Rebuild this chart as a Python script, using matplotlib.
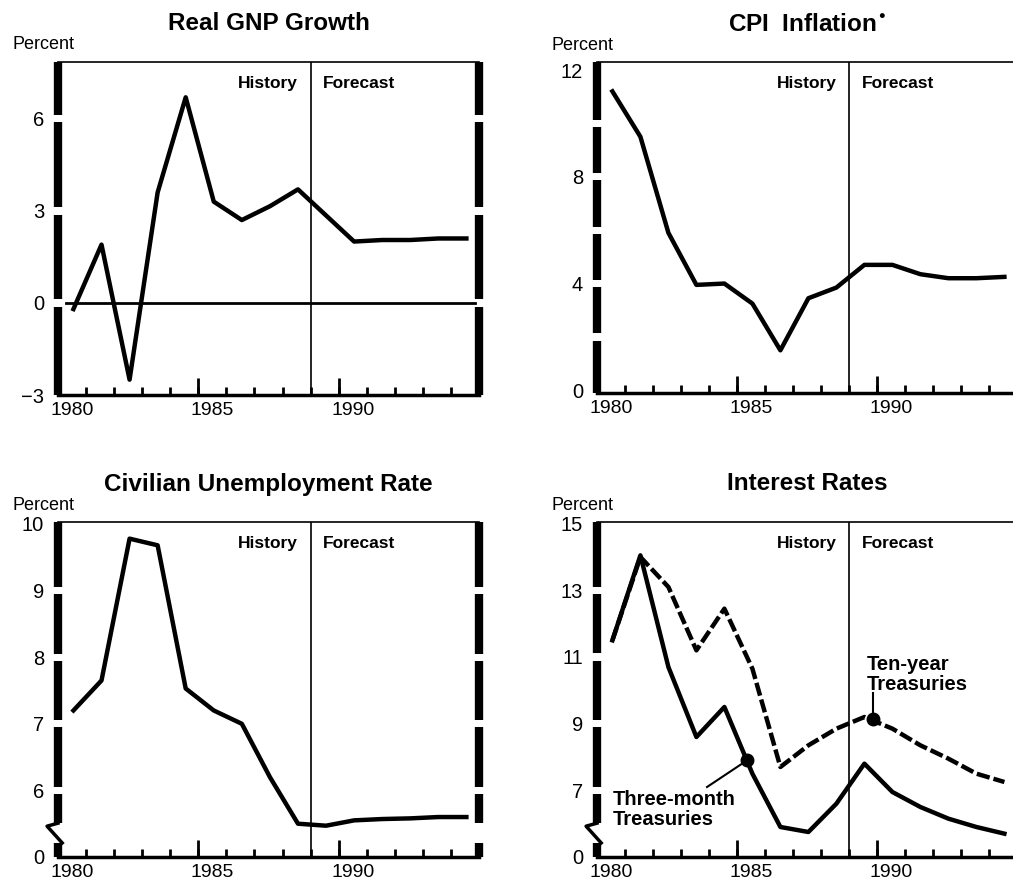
import numpy as np
import matplotlib
matplotlib.use("Agg")
import matplotlib.pyplot as plt

plt.rcParams['font.family'] = ['Liberation Sans', 'DejaVu Sans']

# annual values (forecast from 1989 on)
years = [1980, 1981, 1982, 1983, 1984, 1985, 1986, 1987, 1988, 1989,
         1990, 1991, 1992, 1993, 1994]
gnp = [-0.2, 1.9, -2.5, 3.6, 6.7, 3.3, 2.7, 3.15, 3.7, 2.85,
       2.0, 2.05, 2.05, 2.1, 2.1]
cpi = [11.2, 9.5, 5.9, 3.95, 4.0, 3.25, 1.5, 3.45, 3.85, 4.7,
       4.7, 4.35, 4.2, 4.2, 4.25]
unemp = [7.2, 7.65, 9.78, 9.68, 7.53, 7.2, 7.0, 6.2, 5.5, 5.47,
         5.55, 5.57, 5.58, 5.6, 5.6]
tbill = [11.5, 14.05, 10.7, 8.6, 9.5, 7.5, 5.9, 5.75, 6.6, 7.8,
         6.95, 6.5, 6.15, 5.9, 5.7]
tnote = [11.5, 14.0, 13.1, 11.2, 12.45, 10.65, 7.7, 8.35, 8.85, 9.2,
         8.85, 8.35, 7.95, 7.5, 7.25]

x = np.array(years) + 0.55      # plotted mid-year
split = 1989                    # history / forecast
year_labels = ['1980', '1985', '1990']

# annotation anchors (year, percent)
tnote_mark = (1989.85, 9.15)
tnote_text = (1989.65, 11.05)
tbill_mark = (1985.36, 7.9)
tbill_line = (1983.93, 7.1)
tbill_text = (1980.55, 7.0)

W, H = 1013, 883
fig = plt.figure(figsize=(W / 100, H / 100), dpi=100)


def box(x0, y0, x1, y1):
    return [x0 / W, 1 - y1 / H, (x1 - x0) / W, (y1 - y0) / H]


def thick_side(ax, xa, gaps, broken=False):
    lo, hi = ax.get_ylim()
    g = 0.011
    cuts = sorted((v - lo) / (hi - lo) for v in gaps)
    start = 0.0
    segs = []
    if broken:
        segs.append((0.0, 0.042))
        start = 0.101
    for c in cuts:
        segs.append((start, c - g))
        start = c + g
    segs.append((start, 1.0))
    for a, b in segs:
        ax.plot([xa, xa], [a, b], transform=ax.transAxes, color='black',
                lw=6, solid_capstyle='butt', clip_on=False, zorder=5)
    if broken and xa == 0:
        ax.plot([0.0, -0.026, 0.01], [0.101, 0.092, 0.042],
                transform=ax.transAxes, color='black', lw=2.5,
                clip_on=False, zorder=5)


def panel(rect, title, ylim, yticks, ylabels, gaps, broken=False):
    ax = fig.add_axes(box(*rect))
    ax.set_xlim(1980, 1995)
    ax.set_ylim(*ylim)
    for s in ['left', 'right']:
        ax.spines[s].set_visible(False)
    ax.spines['top'].set_linewidth(1.2)
    ax.spines['bottom'].set_linewidth(2.5)
    ax.set_xticks(range(1980, 1996))
    ax.set_xticklabels([])
    ax.tick_params(axis='x', which='major', direction='in', length=6, width=2)
    ax.set_xticks([1980.5, 1985.5, 1990.5], minor=True)
    ax.set_xticklabels(year_labels, minor=True, fontsize=14)
    ax.tick_params(axis='x', which='minor', length=0, pad=5)
    ax.set_yticks(yticks)
    ax.set_yticklabels(ylabels, fontsize=14.5)
    ax.tick_params(axis='y', length=0, pad=10)
    ax.vlines([1985, 1990], 0, 0.05, transform=ax.get_xaxis_transform(),
              color='black', lw=2)
    ax.axvline(split, color='black', lw=1.2)
    ax.text(split - 0.45, 0.935, 'History', transform=ax.get_xaxis_transform(),
            ha='right', va='center', fontsize=12.5, fontweight='bold')
    ax.text(split + 0.45, 0.935, 'Forecast', transform=ax.get_xaxis_transform(),
            ha='left', va='center', fontsize=12.5, fontweight='bold')
    thick_side(ax, 0, gaps, broken)
    thick_side(ax, 1, gaps, broken)
    l, b, w, h = ax.get_position().bounds
    fig.text(l + w / 2, b + h + 38 / H, title, ha='center', va='center',
             fontsize=17.5, fontweight='bold')
    fig.text(l - 46 / W, b + h + 17 / H, 'Percent', ha='left', va='center',
             fontsize=13)
    return ax


ax1 = panel((58, 62, 479, 395), 'Real GNP Growth', (-3, 7.85),
            [-3, 0, 3, 6], ['\u22123', '0', '3', '6'], [0, 3, 6])
ax1.axhline(0, xmin=0.02, xmax=0.99, color='black', lw=2)
ax1.plot(x, gnp, color='black', lw=3.2)

ax2 = panel((597, 62, 1017, 393), r'CPI  Inflation$^{\bullet}$', (-0.1, 12.3),
            [0, 4, 8, 12], ['0', '4', '8', '12'], [2, 4, 6, 8, 10])
ax2.plot(x, cpi, color='black', lw=3.2)

ax3 = panel((58, 522, 479, 857), 'Civilian Unemployment Rate', (5.0, 10.03),
            [5.0, 6, 7, 8, 9, 10], ['0', '6', '7', '8', '9', '10'],
            [6, 7, 8, 9], broken=True)
ax3.plot(x, unemp, color='black', lw=3.2)

ax4 = panel((597, 522, 1017, 857), 'Interest Rates', (5.0, 15.05),
            [5.0, 7, 9, 11, 13, 15], ['0', '7', '9', '11', '13', '15'],
            [7, 9, 11, 13], broken=True)
ax4.plot(x, tnote, color='black', lw=3.2, linestyle=(0, (3, 0.9)))
ax4.plot(x, tbill, color='black', lw=3.2)
ax4.plot(*tnote_mark, 'o', color='black', ms=9, zorder=6)
ax4.plot([tnote_mark[0], tnote_mark[0]], [tnote_mark[1], 9.92],
         color='black', lw=1.5)
ax4.text(*tnote_text, 'Ten-year\nTreasuries', ha='left', va='top',
         fontsize=14.5, fontweight='bold', linespacing=1.05)
ax4.plot(*tbill_mark, 'o', color='black', ms=9, zorder=6)
ax4.plot([tbill_line[0], tbill_mark[0]], [tbill_line[1], tbill_mark[1]],
         color='black', lw=1.5)
ax4.text(*tbill_text, 'Three-month\nTreasuries', ha='left', va='top',
         fontsize=14.5, fontweight='bold', linespacing=1.05)

fig.savefig('out.png', dpi=100)
